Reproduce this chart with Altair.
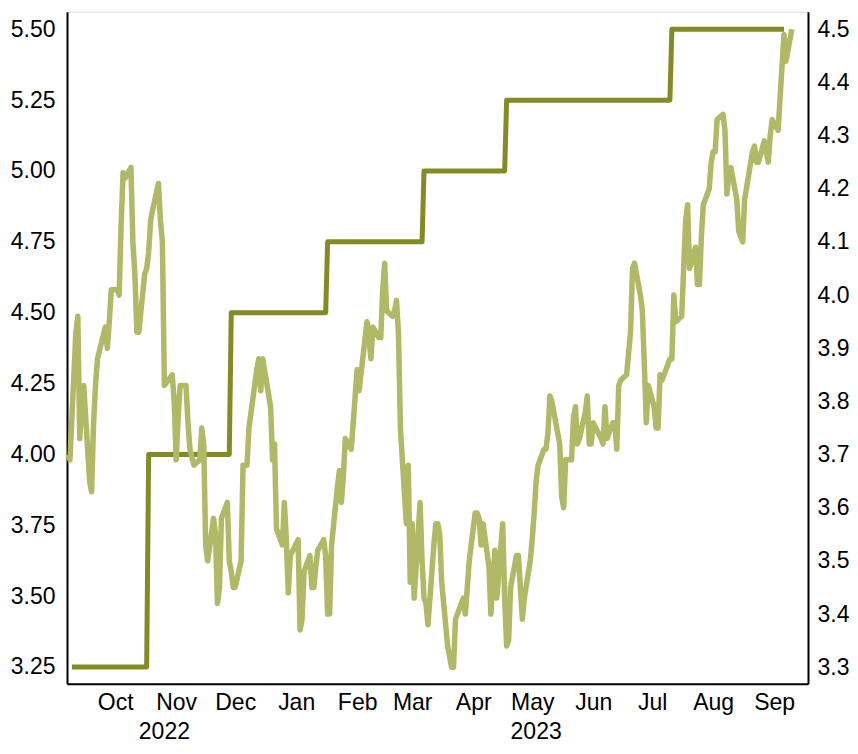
import altair as alt
import pandas as pd

# ---------------- data ----------------
# Fed funds target (upper bound), corner points of the step line
ff_dates = ["2022-09-24", "2022-11-01", "2022-11-02", "2022-12-13", "2022-12-14",
            "2023-01-31", "2023-02-01", "2023-03-21", "2023-03-22", "2023-05-02",
            "2023-05-03", "2023-07-25", "2023-07-26", "2023-09-21"]
ff_values = [3.25, 3.25, 4.00, 4.00, 4.50, 4.50, 4.75, 4.75, 5.00, 5.00,
             5.25, 5.25, 5.50, 5.50]

# 10-year yield (right axis)
y_dates = [
    "2022-09-22", "2022-09-23", "2022-09-26", "2022-09-27", "2022-09-28", "2022-09-29", "2022-09-30",
    "2022-10-03", "2022-10-04", "2022-10-05", "2022-10-06", "2022-10-07", "2022-10-11", "2022-10-12",
    "2022-10-13", "2022-10-14", "2022-10-17", "2022-10-18", "2022-10-19", "2022-10-20", "2022-10-21",
    "2022-10-24", "2022-10-25", "2022-10-26", "2022-10-27", "2022-10-28", "2022-10-31",
    "2022-11-01", "2022-11-02", "2022-11-03", "2022-11-04", "2022-11-07", "2022-11-08", "2022-11-09",
    "2022-11-10", "2022-11-14", "2022-11-15", "2022-11-16", "2022-11-17", "2022-11-18", "2022-11-21",
    "2022-11-22", "2022-11-23", "2022-11-25", "2022-11-28", "2022-11-29", "2022-11-30",
    "2022-12-01", "2022-12-02", "2022-12-05", "2022-12-06", "2022-12-07", "2022-12-08", "2022-12-09",
    "2022-12-12", "2022-12-13", "2022-12-14", "2022-12-15", "2022-12-16", "2022-12-19", "2022-12-20",
    "2022-12-21", "2022-12-22", "2022-12-23", "2022-12-27", "2022-12-28", "2022-12-29", "2022-12-30",
    "2023-01-03", "2023-01-04", "2023-01-05", "2023-01-06", "2023-01-09", "2023-01-10", "2023-01-11",
    "2023-01-12", "2023-01-13", "2023-01-17", "2023-01-18", "2023-01-19", "2023-01-20", "2023-01-23",
    "2023-01-24", "2023-01-25", "2023-01-26", "2023-01-27", "2023-01-30", "2023-01-31",
    "2023-02-01", "2023-02-02", "2023-02-03", "2023-02-06", "2023-02-07", "2023-02-08", "2023-02-09",
    "2023-02-10", "2023-02-13", "2023-02-14", "2023-02-15", "2023-02-16", "2023-02-17", "2023-02-21",
    "2023-02-22", "2023-02-23", "2023-02-24", "2023-02-27", "2023-02-28",
    "2023-03-01", "2023-03-02", "2023-03-03", "2023-03-06", "2023-03-07", "2023-03-08", "2023-03-09",
    "2023-03-10", "2023-03-13", "2023-03-14", "2023-03-15", "2023-03-16", "2023-03-17", "2023-03-20",
    "2023-03-21", "2023-03-22", "2023-03-23", "2023-03-24", "2023-03-27", "2023-03-28", "2023-03-29",
    "2023-03-30", "2023-03-31",
    "2023-04-03", "2023-04-04", "2023-04-05", "2023-04-06", "2023-04-07", "2023-04-10", "2023-04-11",
    "2023-04-12", "2023-04-13", "2023-04-14", "2023-04-17", "2023-04-18", "2023-04-19", "2023-04-20",
    "2023-04-21", "2023-04-24", "2023-04-25", "2023-04-26", "2023-04-27", "2023-04-28",
    "2023-05-01", "2023-05-02", "2023-05-03", "2023-05-04", "2023-05-05", "2023-05-08", "2023-05-09",
    "2023-05-10", "2023-05-11", "2023-05-12", "2023-05-15", "2023-05-16", "2023-05-17", "2023-05-18",
    "2023-05-19", "2023-05-22", "2023-05-23", "2023-05-24", "2023-05-25", "2023-05-26", "2023-05-30",
    "2023-05-31",
    "2023-06-01", "2023-06-02", "2023-06-05", "2023-06-06", "2023-06-07", "2023-06-08", "2023-06-09",
    "2023-06-12", "2023-06-13", "2023-06-14", "2023-06-15", "2023-06-16", "2023-06-20", "2023-06-21",
    "2023-06-22", "2023-06-23", "2023-06-26", "2023-06-27", "2023-06-28", "2023-06-29", "2023-06-30",
    "2023-07-03", "2023-07-05", "2023-07-06", "2023-07-07", "2023-07-10", "2023-07-11", "2023-07-12",
    "2023-07-13", "2023-07-14", "2023-07-17", "2023-07-18", "2023-07-19", "2023-07-20", "2023-07-21",
    "2023-07-24", "2023-07-25", "2023-07-26", "2023-07-27", "2023-07-28", "2023-07-31",
    "2023-08-01", "2023-08-02", "2023-08-03", "2023-08-04", "2023-08-07", "2023-08-08", "2023-08-09",
    "2023-08-10", "2023-08-11", "2023-08-14", "2023-08-15", "2023-08-16", "2023-08-17", "2023-08-18",
    "2023-08-21", "2023-08-22", "2023-08-23", "2023-08-24", "2023-08-25", "2023-08-28", "2023-08-29",
    "2023-08-30", "2023-08-31",
    "2023-09-01", "2023-09-05", "2023-09-06", "2023-09-07", "2023-09-08", "2023-09-11", "2023-09-12",
    "2023-09-13", "2023-09-14", "2023-09-15", "2023-09-18", "2023-09-19", "2023-09-20", "2023-09-21",
    "2023-09-22", "2023-09-25",
]
y_values = [
    3.70, 3.69, 3.93, 3.96, 3.73, 3.79, 3.83,
    3.65, 3.63, 3.76, 3.83, 3.88, 3.94, 3.90,
    3.95, 4.01, 4.01, 4.00, 4.13, 4.23, 4.22,
    4.24, 4.10, 4.04, 3.93, 3.93, 4.04,
    4.05, 4.08, 4.14, 4.16, 4.21, 4.14, 4.10,
    3.83, 3.85, 3.80, 3.69, 3.77, 3.83, 3.83,
    3.76, 3.71, 3.68, 3.69, 3.75, 3.72,
    3.53, 3.50, 3.58, 3.55, 3.42, 3.45, 3.58,
    3.61, 3.50, 3.48, 3.45, 3.45, 3.50, 3.68,
    3.68, 3.68, 3.75, 3.86, 3.88, 3.82, 3.88,
    3.79, 3.69, 3.72, 3.56, 3.53, 3.61, 3.54,
    3.44, 3.51, 3.54, 3.37, 3.39, 3.48, 3.51,
    3.45, 3.45, 3.49, 3.52, 3.54, 3.51,
    3.40, 3.40, 3.53, 3.64, 3.67, 3.61, 3.66,
    3.73, 3.71, 3.76, 3.81, 3.86, 3.82, 3.95,
    3.92, 3.88, 3.94, 3.92, 3.92,
    4.01, 4.06, 3.97, 3.96, 3.97, 3.99, 3.93,
    3.75, 3.57, 3.68, 3.46, 3.57, 3.43, 3.61,
    3.50, 3.43, 3.42, 3.38, 3.53, 3.57, 3.57,
    3.55, 3.46,
    3.34, 3.32, 3.30, 3.30, 3.39, 3.42, 3.43,
    3.40, 3.45, 3.50, 3.59, 3.59, 3.58, 3.53,
    3.57, 3.49, 3.40, 3.46, 3.52, 3.43,
    3.57, 3.43, 3.34, 3.35, 3.45, 3.51, 3.51,
    3.45, 3.39, 3.43, 3.50, 3.54, 3.59, 3.65,
    3.68, 3.71, 3.71, 3.74, 3.81, 3.80, 3.72,
    3.62,
    3.60, 3.69, 3.69, 3.77, 3.79, 3.72, 3.73,
    3.78, 3.81, 3.72, 3.72, 3.76, 3.73, 3.72,
    3.79, 3.73, 3.76, 3.76, 3.71, 3.83, 3.84,
    3.85, 3.93, 4.05, 4.06, 4.00, 3.97, 3.87,
    3.76, 3.83, 3.79, 3.75, 3.75, 3.85, 3.84,
    3.87, 3.88, 3.88, 4.00, 3.95, 3.96,
    4.05, 4.14, 4.17, 4.05, 4.09, 4.02, 4.02,
    4.11, 4.17, 4.20, 4.25, 4.27, 4.27, 4.33,
    4.34, 4.31, 4.19, 4.23, 4.24, 4.18, 4.12,
    4.11, 4.10,
    4.18, 4.27, 4.28, 4.25, 4.25, 4.29, 4.27,
    4.25, 4.30, 4.33, 4.31, 4.37, 4.43, 4.49,
    4.44, 4.50,
]

left_ticks = [3.25, 3.50, 3.75, 4.00, 4.25, 4.50, 4.75, 5.00, 5.25, 5.50]
right_ticks = [3.3, 3.4, 3.5, 3.6, 3.7, 3.8, 3.9, 4.0, 4.1, 4.2, 4.3, 4.4, 4.5]
month_label_dates = ["2022-10-16", "2022-11-16", "2022-12-16", "2023-01-16", "2023-02-16",
                     "2023-03-16", "2023-04-16", "2023-05-16", "2023-06-16", "2023-07-16",
                     "2023-08-16", "2023-09-16"]
year_labels = ["2022", "2023"]
year_label_dates = ["2022-11-10", "2023-05-18"]

# ---------------- chart ----------------
FONT = "Liberation Sans"
FS = 23
DARK = "#838B24"
LIGHT = "#B0B966"

ff_df = pd.DataFrame({"date": pd.to_datetime(ff_dates), "value": ff_values})
y_df = pd.DataFrame({"date": pd.to_datetime(y_dates), "value": y_values})
yr_df = pd.DataFrame({"date": pd.to_datetime(year_label_dates), "label": year_labels})


def dt(s, hours=0):
    t = pd.Timestamp(s)
    return alt.DateTime(year=t.year, month=t.month, date=t.day, hours=hours)


x_scale = alt.Scale(domain=[dt("2022-09-21", 12), dt("2023-10-03", 5)])
x_axis = alt.Axis(
    values=[dt(d) for d in month_label_dates], format="%b", title=None,
    labelFont=FONT, labelFontSize=FS, labelColor="black", labelPadding=8,
    ticks=False, tickSize=0, grid=False, domainColor="black", domainWidth=2,
    labelOverlap=False, labelFlush=False,
)
X = alt.X("date:T", scale=x_scale, axis=x_axis)

step = alt.Chart(ff_df).mark_line(
    color=DARK, strokeWidth=5, strokeJoin="round", strokeCap="butt"
).encode(
    x=X,
    y=alt.Y("value:Q",
            scale=alt.Scale(domain=[3.191, 5.562], nice=False, zero=False),
            axis=alt.Axis(orient="left", values=left_ticks, format=".2f", title=None,
                          labelFont=FONT, labelFontSize=FS, labelColor="black",
                          labelPadding=12, ticks=False, tickSize=0, grid=False,
                          domainColor="black", domainWidth=2)),
)

yld = alt.Chart(y_df).mark_line(
    color=LIGHT, strokeWidth=5.5, strokeJoin="round", strokeCap="butt"
).encode(
    x=X,
    y=alt.Y("value:Q",
            scale=alt.Scale(domain=[3.269, 4.533], nice=False, zero=False),
            axis=alt.Axis(orient="right", values=right_ticks, format=".1f", title=None,
                          labelFont=FONT, labelFontSize=FS, labelColor="black",
                          labelPadding=9, ticks=False, tickSize=0, grid=False,
                          domainColor="black", domainWidth=2)),
)

years = alt.Chart(yr_df).mark_text(
    font=FONT, fontSize=FS, color="black", align="center", baseline="alphabetic"
).encode(
    x=X,
    y=alt.value(727),
    text="label:N",
)

chart = alt.layer(step, yld, years).resolve_scale(y="independent").properties(
    width=741, height=672,
    autosize=alt.AutoSizeParams(type="none"),
    padding={"left": 59, "top": 3.7, "right": 42, "bottom": 62},
).configure_view(stroke=None).configure(background="white")

chart.save("out.html", embed_options={"renderer": "svg", "actions": False})
